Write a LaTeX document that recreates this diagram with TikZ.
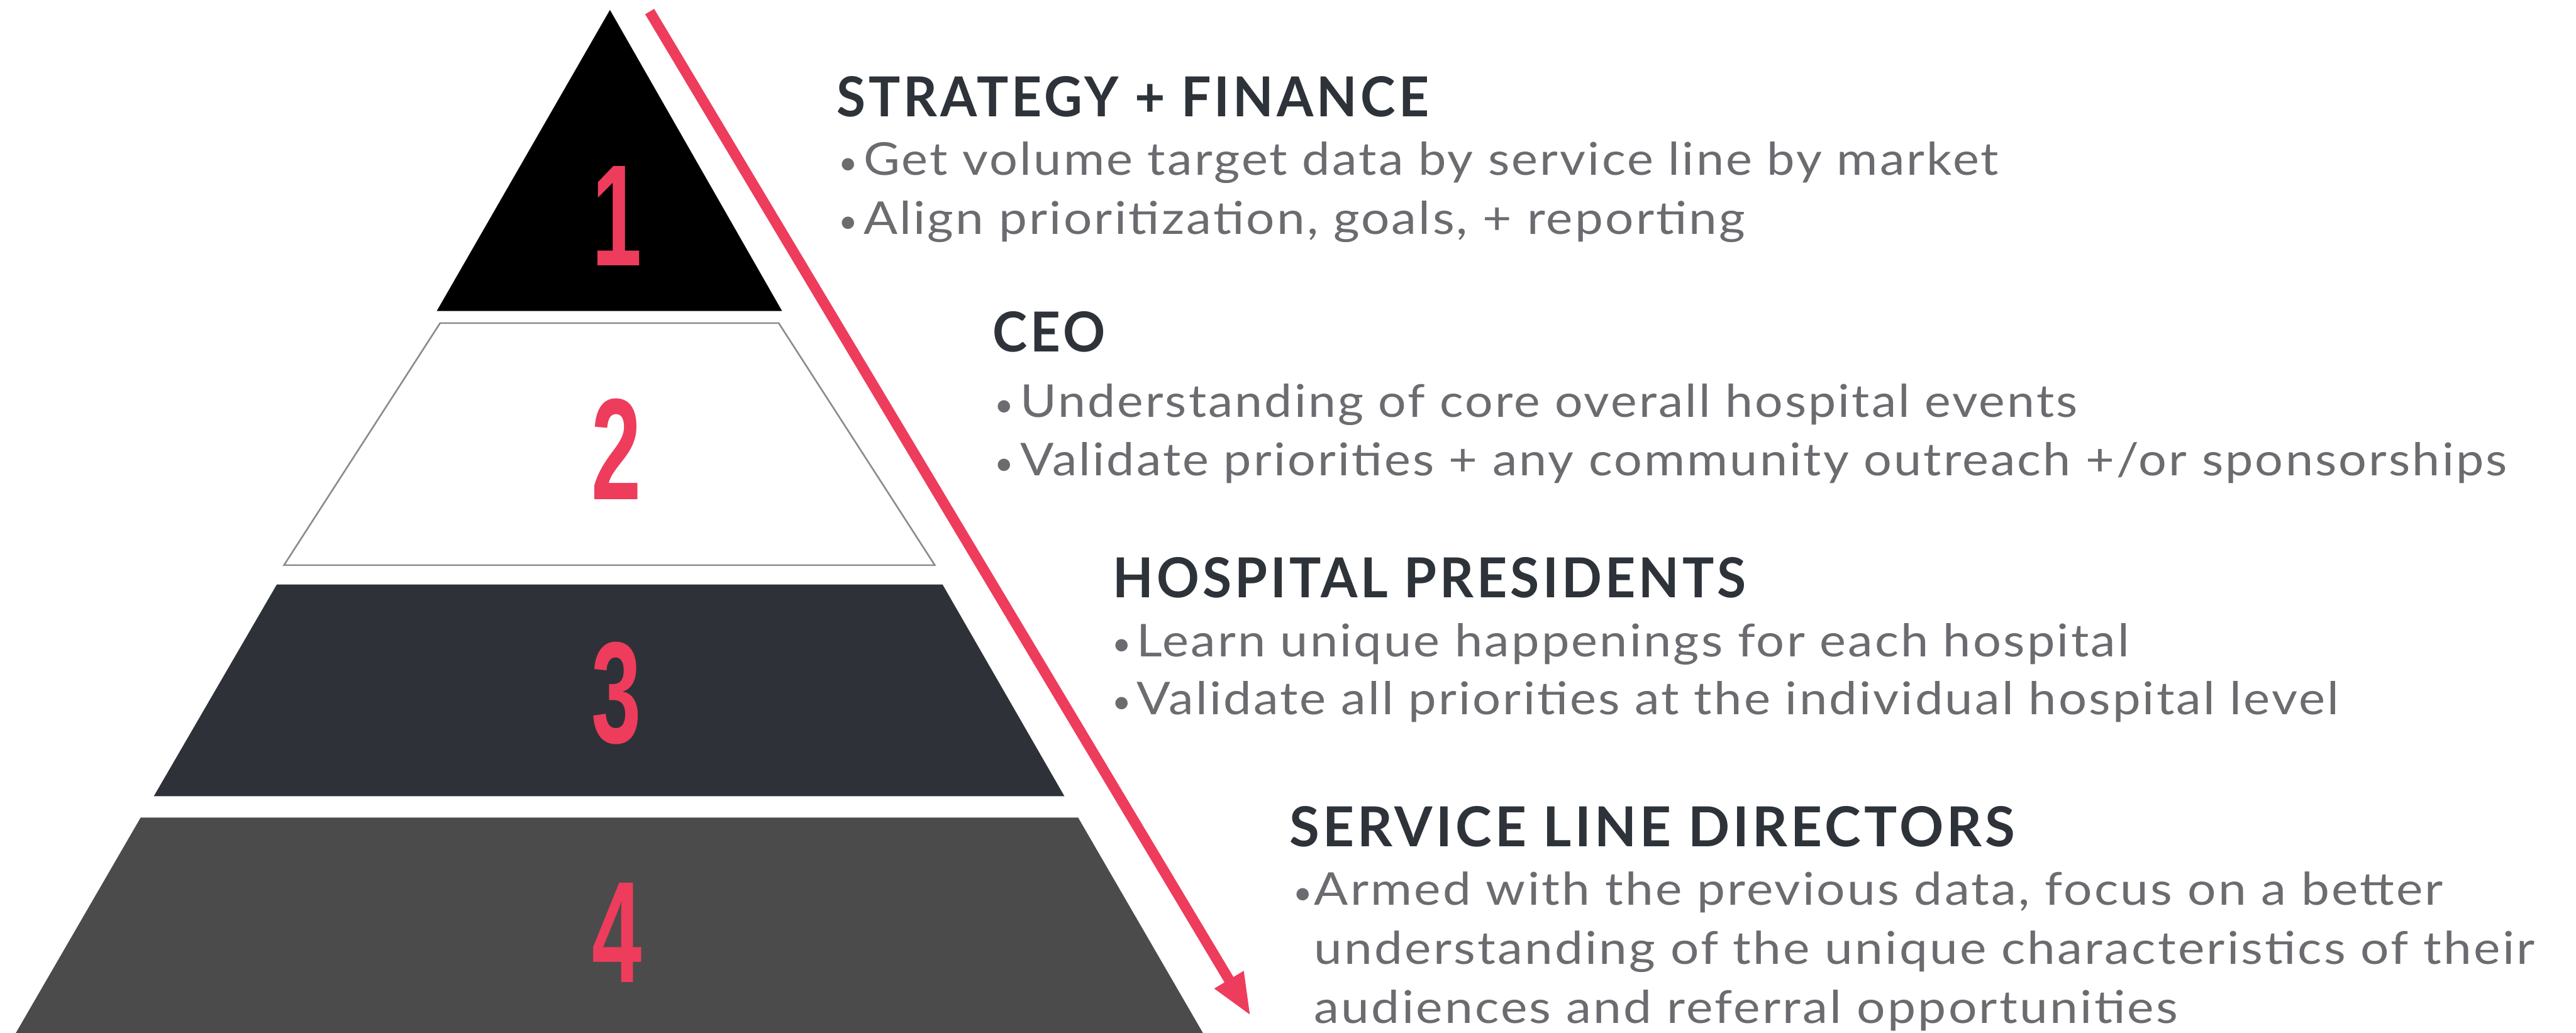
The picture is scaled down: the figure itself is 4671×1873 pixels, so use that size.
\documentclass[tikz,border=0pt]{standalone}
\usepackage{fontspec}
\usepackage{graphicx}
\usetikzlibrary{arrows.meta}
\setmainfont{Lato}
\newfontfamily\headfont[LetterSpace=6]{Lato}
\newfontfamily\bodyfont[LetterSpace=4]{Lato}
\newfontfamily\numfont{Liberation Sans}
\definecolor{headcol}{HTML}{2D3339}
\definecolor{bodycol}{HTML}{6B6B70}
\definecolor{accent}{HTML}{EE3C5C}
\definecolor{tierthree}{HTML}{2E3238}
\definecolor{tierfour}{HTML}{4B4B4B}
\definecolor{outline}{HTML}{8C8C8C}
% stretch a line of text to a given width, keeping its height
\newcommand\fitto[2]{\resizebox{#1pt}{\height}{#2}}
% bullet set in a box of the given width
\newcommand\bul[1]{\makebox[#1pt][l]{\raisebox{2pt}{\fontsize{60}{60}\selectfont\textbullet}}}
\begin{document}
\begin{tikzpicture}[x=1pt,y=-1pt,
  every node/.style={inner sep=0pt,outer sep=0pt},
  head/.style={anchor=base west,text=headcol,font=\headfont\bfseries\fontsize{100}{100}\selectfont},
  body/.style={anchor=base west,text=bodycol,font=\bodyfont\fontsize{82}{82}\selectfont},
  num/.style={anchor=base,text=accent,font=\numfont\bfseries\fontsize{262}{262}\selectfont},
  flow/.style={draw=accent,line width=19pt,-{Triangle[length=77pt,width=56pt]}}]
\useasboundingbox (0,0) rectangle (4671,1873);

% tiers of the pyramid
\fill[black] (1106,18) -- (1418,564) -- (792,564) -- cycle;
\draw[fill=white,draw=outline,line width=3pt,line join=miter] (798,586) -- (1412,586) -- (1695,1025) -- (515,1025) -- cycle;
\fill[tierthree] (502,1060) -- (1709,1060) -- (1930,1444) -- (279,1444) -- cycle;
\fill[tierfour] (255,1483) -- (1955,1483) -- (2185,1880) -- (25,1880) -- cycle;

% tier numbers
\node[num] (n1) at (1119,482) {\scalebox{0.62}[1]{1}};
\node[num] (n2) at (1118,906) {\scalebox{0.62}[1]{2}};
\node[num] (n3) at (1118,1347) {\scalebox{0.62}[1]{3}};
\node[num] (n4) at (1119,1782) {\scalebox{0.62}[1]{4}};

% downward flow arrow
\coordinate (flowstart) at (1178,21);
\coordinate (flowend) at (2268,1843);
\draw[flow] (flowstart) -- (flowend);

% tier 1
\node[head] (h1) at (1517,212) {\fitto{1074}{STRATEGY + FINANCE}};
\node[body] (b11) at (1521,318) {\bul{45}\fitto{2058}{Get volume target data by service line by market}};
\node[body] (b12) at (1521,425) {\bul{45}\fitto{1599}{Align prioritization, goals, + reporting}};

% tier 2
\node[head] (h2) at (1800,638) {\fitto{204}{CEO}};
\node[body] (b21) at (1803,757) {\bul{47}\fitto{1917}{Understanding of core overall hospital events}};
\node[body] (b22) at (1803,863) {\bul{47}\fitto{2696}{Validate priorities + any community outreach +/or sponsorships}};

% tier 3
\node[head] (h3) at (2018,1084) {\fitto{1148}{HOSPITAL PRESIDENTS}};
\node[body] (b31) at (2017,1191) {\bul{44}\fitto{1800}{Learn unique happenings for each hospital}};
\node[body] (b32) at (2017,1296) {\bul{44}\fitto{2180}{Validate all priorities at the individual hospital level}};

% tier 4
\node[head] (h4) at (2338,1535) {\fitto{1316}{SERVICE LINE DIRECTORS}};
\node[body] (b41) at (2345,1642) {\bul{38}\fitto{2047}{Armed with the previous data, focus on a better}};
\node[body] (b42) at (2383,1749) {\fitto{2213}{understanding of the unique characteristics of their}};
\node[body] (b43) at (2383,1856) {\fitto{1566}{audiences and referral opportunities}};
\end{tikzpicture}
\end{document}
